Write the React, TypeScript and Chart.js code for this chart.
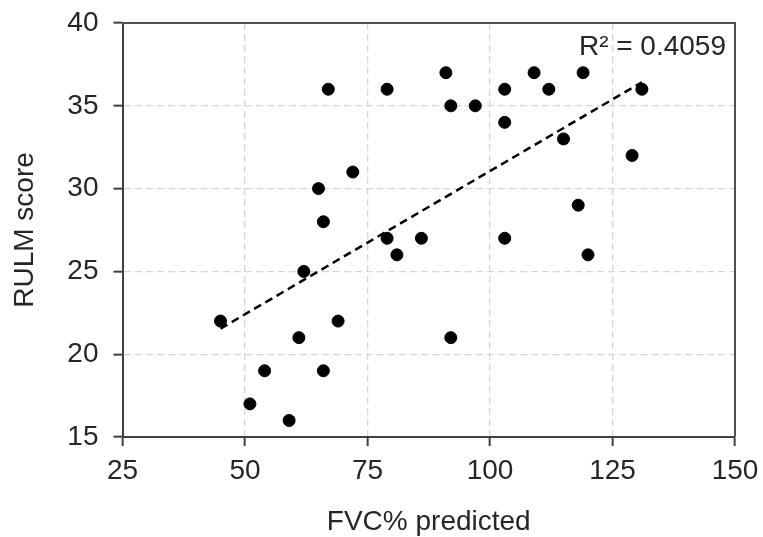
import React, { useEffect, useRef } from "react";
import { Chart, registerables } from "chart.js";

Chart.register(...registerables);

const fvcPredicted = [45, 51, 54, 59, 61, 62, 65, 66, 66, 67, 69, 72, 79, 79, 81, 86, 91, 92, 92, 97, 103, 103, 103, 109, 112, 115, 118, 119, 120, 129, 131];
const rulmScore = [22, 17, 19, 16, 21, 25, 30, 28, 19, 36, 22, 31, 36, 27, 26, 27, 37, 35, 21, 35, 36, 34, 27, 37, 36, 33, 29, 37, 26, 32, 36];
const xTitle = "FVC% predicted";
const yTitle = "RULM score";
const r2Label = "R\u00b2 = 0.4059";

const FONT = "'Liberation Sans', Arial, sans-serif";
const TEXT = "#262626";
const AXIS = "#404040";

function regression(xs: number[], ys: number[]) {
  const n = xs.length;
  const mx = xs.reduce((a, b) => a + b, 0) / n;
  const my = ys.reduce((a, b) => a + b, 0) / n;
  let sxy = 0, sxx = 0;
  for (let i = 0; i < n; i++) {
    sxy += (xs[i] - mx) * (ys[i] - my);
    sxx += (xs[i] - mx) * (xs[i] - mx);
  }
  const slope = sxy / sxx;
  return { slope, intercept: my - slope * mx };
}

export default function App() {
  const ref = useRef<HTMLCanvasElement | null>(null);
  useEffect(() => {
    if (!ref.current) return;
    const pts = fvcPredicted.map((x, i) => ({ x, y: rulmScore[i] }));
    const { slope, intercept } = regression(fvcPredicted, rulmScore);
    const xMin = Math.min(...fvcPredicted);
    const xMax = Math.max(...fvcPredicted);
    const trend = [
      { x: xMin, y: intercept + slope * xMin },
      { x: xMax, y: intercept + slope * xMax },
    ];
    const framePlugin = {
      id: "frameAndLabel",
      beforeDatasetsDraw(chart: any) {
        const { ctx, chartArea } = chart;
        ctx.save();
        ctx.strokeStyle = "#505050";
        ctx.lineWidth = 2;
        ctx.beginPath();
        ctx.moveTo(chartArea.left, chartArea.top);
        ctx.lineTo(chartArea.right, chartArea.top);
        ctx.lineTo(chartArea.right, chartArea.bottom);
        ctx.stroke();
        ctx.restore();
      },
      afterDatasetsDraw(chart: any) {
        const { ctx, chartArea } = chart;
        ctx.save();
        ctx.font = `28px ${FONT}`;
        ctx.fillStyle = TEXT;
        ctx.textAlign = "right";
        ctx.textBaseline = "alphabetic";
        ctx.fillText(r2Label, chartArea.right - 9, chartArea.top + 32);
        ctx.restore();
      },
    };
    const chart = new Chart(ref.current, {
      type: "scatter",
      data: {
        datasets: [
          {
            type: "scatter",
            label: "RULM",
            data: pts,
            backgroundColor: "#000",
            borderColor: "#000",
            borderWidth: 1,
            pointRadius: 6,
            order: 2,
          },
          {
            type: "line",
            label: "Trend",
            data: trend,
            borderColor: "#000",
            borderWidth: 2.5,
            borderDash: [8, 5],
            pointRadius: 0,
            fill: false,
            order: 1,
          } as any,
        ],
      },
      options: {
        animation: false,
        responsive: false,
        layout: { padding: { top: 23, right: 28, bottom: 0, left: 0 } },
        plugins: { legend: { display: false }, tooltip: { enabled: false } },
        scales: {
          x: {
            type: "linear",
            min: 25,
            max: 150,
            ticks: { stepSize: 25, color: TEXT, font: { family: FONT, size: 28 }, padding: 8, maxRotation: 0 },
            grid: { color: "#d6d6d6", lineWidth: 1.3, tickColor: AXIS, tickWidth: 2, tickLength: 9 },
            border: { display: true, color: AXIS, width: 2, dash: [7, 4] },
            title: { display: true, text: xTitle, color: TEXT, font: { family: FONT, size: 28, lineHeight: 1.0 }, padding: { top: 0, bottom: 1 } },
            afterFit: (s: any) => { s.height = 100; s.paddingLeft = 0; s.paddingRight = 0; },
          },
          y: {
            type: "linear",
            min: 15,
            max: 40,
            ticks: { stepSize: 5, color: TEXT, font: { family: FONT, size: 28 }, padding: 15 },
            grid: { color: "#d6d6d6", lineWidth: 1.3, tickColor: AXIS, tickWidth: 2, tickLength: 9 },
            border: { display: true, color: AXIS, width: 2, dash: [7, 4] },
            title: { display: true, text: yTitle, color: TEXT, font: { family: FONT, size: 28, lineHeight: 1.2 }, padding: { top: 8, bottom: 0 } },
            afterFit: (s: any) => { s.width = 122.5; s.paddingTop = 0; s.paddingBottom = 0; },
          },
        },
      },
      plugins: [framePlugin],
    });
    return () => chart.destroy();
  }, []);
  return (
    <div style={{ position: "absolute", left: 0, top: 0, width: 763, height: 537, background: "#fff" }}>
      <canvas ref={ref} width={763} height={537} style={{ display: "block" }} />
    </div>
  );
}
